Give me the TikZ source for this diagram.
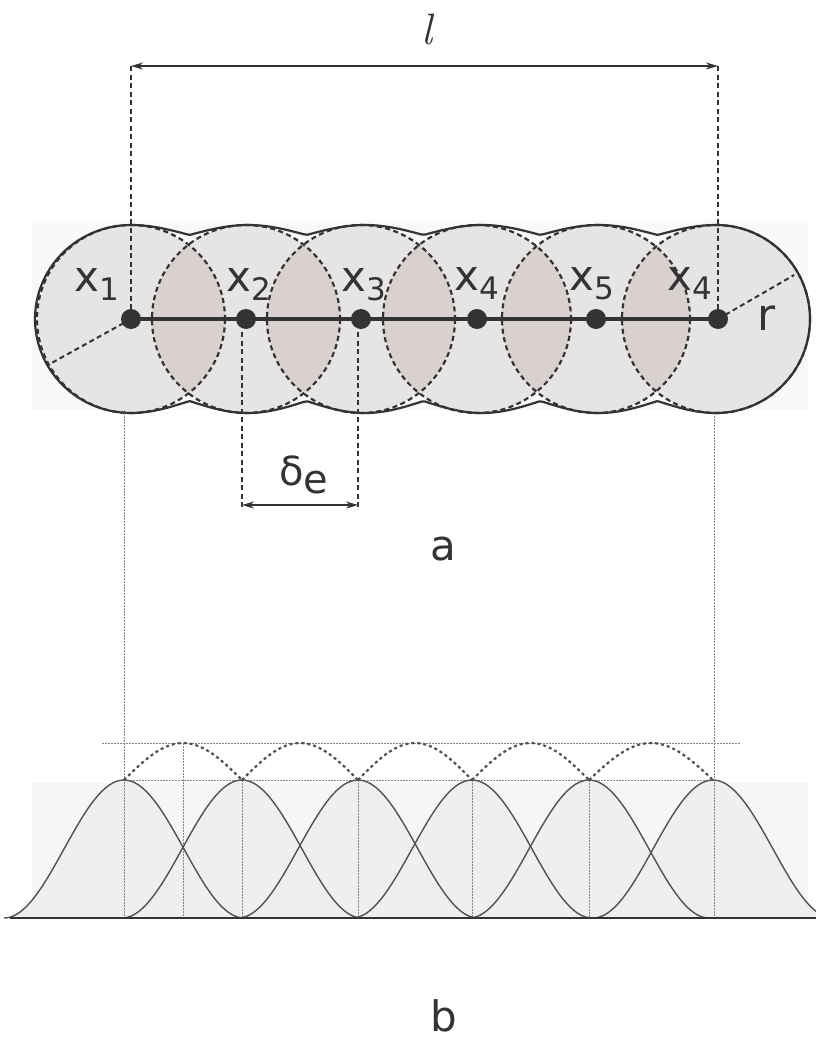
\documentclass[tikz,border=0pt]{standalone}
\usepackage{fontspec}
\setmainfont{DejaVu Sans}
\newfontfamily\lmfont{Latin Modern Roman}
\usetikzlibrary{arrows.meta,calc}
\definecolor{ink}{RGB}{51,51,51}
\definecolor{circfill}{RGB}{231,228,228}
\definecolor{lensfill}{RGB}{216,209,208}
\definecolor{bumpfill}{RGB}{240,239,239}
\definecolor{bgA}{RGB}{249,249,249}
\definecolor{bgB}{RGB}{246,246,246}
\definecolor{guide}{RGB}{140,130,130}
\newcommand{\xlab}[1]{\fontsize{42}{42}\selectfont x\raisebox{-9pt}{\fontsize{31}{31}\selectfont #1}}
\begin{document}
\begin{tikzpicture}[x=1pt,y=-1pt,
  dashcirc/.style={draw=ink, line width=2.2pt, dash pattern=on 5pt off 3.5pt},
  envelope/.style={draw=ink, line width=2.2pt, line join=round},
  guideline/.style={draw=ink, line width=2pt, dash pattern=on 5pt off 3.5pt},
  fineline/.style={draw=guide, line width=1pt, dash pattern=on 1.5pt off 1.5pt},
  dimarrow/.style={draw=ink, line width=1.7pt, {Stealth[length=12pt,width=7pt]}-{Stealth[length=12pt,width=7pt]}},
  bump/.style={draw=ink!85, line width=1.4pt},
  sumcurve/.style={draw=ink!85, line width=2.2pt, dash pattern=on 3pt off 3pt},
  lab/.style={text=ink, inner sep=0pt, anchor=base west, text depth=0pt},
]
\useasboundingbox (0,0) rectangle (816,1041);
% backgrounds
\fill[bgA] (32,220) rectangle (808,410);
\fill[bgB] (32,783) rectangle (808,918);
% points
\coordinate (p1) at (131,319);
\coordinate (p2) at (246,319);
\coordinate (p3) at (361,319);
\coordinate (p4) at (477,319);
\coordinate (p5) at (596,319);
\coordinate (p6) at (718,319);
% circles
\foreach \c in {131,246,361,477,596,716} \fill[circfill] (\c,319) circle[radius=94];
\foreach \p/\q in {131/246,246/361,361/477,477/596,596/716} {
  \begin{scope}
    \clip (\p,319) circle[radius=94];
    \fill[lensfill] (\q,319) circle[radius=94];
  \end{scope}
}
\foreach \c in {131,246,361,477,596,716} \draw[dashcirc] (\c,319) circle[radius=94];
% envelope
\draw[envelope] plot[domain=90:270, samples=60] ({131+96*cos(\x)},{319-94*sin(\x)})
  -- plot[domain=131:716, samples=160] (\x, {413-12*(1-abs(cos((\x-131)*1.53846)))})
  -- plot[domain=270:450, samples=60] ({716+94*cos(\x)},{319-94*sin(\x)})
  -- plot[domain=0:585, samples=160] ({716-\x},{225+10*(1-abs(cos((585-\x)*1.53846)))})
  -- cycle;
% chain
\draw[ink, line width=4.6pt] (p1) -- (p6);
\draw[guideline] (p1) -- ++(151:94);
\draw[guideline] (p6) -- ++(330:88);
\foreach \n in {p1,p2,p3,p4,p5,p6} \fill[ink] (\n) circle[radius=10];
% labels
\node[lab] (lx1) at (74,291) {\xlab{1}};
\node[lab] (lx2) at (226,291) {\xlab{2}};
\node[lab] (lx3) at (341,291) {\xlab{3}};
\node[lab] (lx4) at (454,290) {\xlab{4}};
\node[lab] (lx5) at (569,290) {\xlab{5}};
\node[lab] (lx6) at (667,290) {\xlab{4}};
\node[lab] (lr) at (757,330) {\fontsize{44}{44}\selectfont r};
% top dimension
\coordinate (t1) at (131,66);
\coordinate (t2) at (718,66);
\draw[guideline] (t1) -- (p1);
\draw[guideline] (t2) -- (p6);
\draw[dimarrow] (t1) -- (t2);
\node[text=ink, inner sep=0pt, anchor=base, text depth=0pt] (ll) at (427,45) {\fontsize{44}{44}\selectfont\lmfont\itshape l};
% delta_e
\coordinate (d1a) at (242,332);
\coordinate (d1b) at (242,508);
\coordinate (d2a) at (358,332);
\coordinate (d2b) at (358,508);
\draw[guideline] (d1a) -- (d1b);
\draw[guideline] (d2a) -- (d2b);
\coordinate (e1) at (242,505);
\coordinate (e2) at (358,505);
\draw[dimarrow] (e1) -- (e2);
\node[lab] (lde) at (279,485) {\fontsize{40}{40}\selectfont δ\raisebox{-8pt}{e}};
\node[lab] (la) at (430,560) {\fontsize{42}{42}\selectfont a};
% plot part b
\foreach \c in {124,242,358,472,589,713}
  \fill[bumpfill] plot[domain=-120:120, samples=80] ({\c+\x},{918-138*cos(\x*0.75)*cos(\x*0.75)}) -- cycle;
\coordinate (g1a) at (124,410);
\coordinate (g1b) at (124,918);
\coordinate (g2a) at (714,413);
\coordinate (g2b) at (714,918);
\draw[fineline] (g1a) -- (g1b);
\draw[fineline] (g2a) -- (g2b);
\foreach \c in {242,358,472,589} \draw[fineline] (\c,780) -- (\c,918);
\draw[fineline] (183,743) -- (183,918);
\draw[fineline] (102,743) -- (740,743);
\draw[fineline] (124,780) -- (714,780);
\foreach \c in {124,242,358,472,589,713}
  \draw[bump] plot[domain=-120:120, samples=80] ({\c+\x},{918-138*cos(\x*0.75)*cos(\x*0.75)});
\foreach \p/\q in {124/242,242/358,358/472,472/589,589/713}
  \draw[sumcurve] plot[domain=0:1, samples=40] ({\p+\x*(\q-\p)},{780-37*sin(180*\x)});
\coordinate (bl1) at (10,918);
\coordinate (bl2) at (816,918);
\draw[ink, line width=2.4pt] (bl1) -- (bl2);
\node[lab] (lb) at (430,1031) {\fontsize{42}{42}\selectfont b};
\end{tikzpicture}
\end{document}
